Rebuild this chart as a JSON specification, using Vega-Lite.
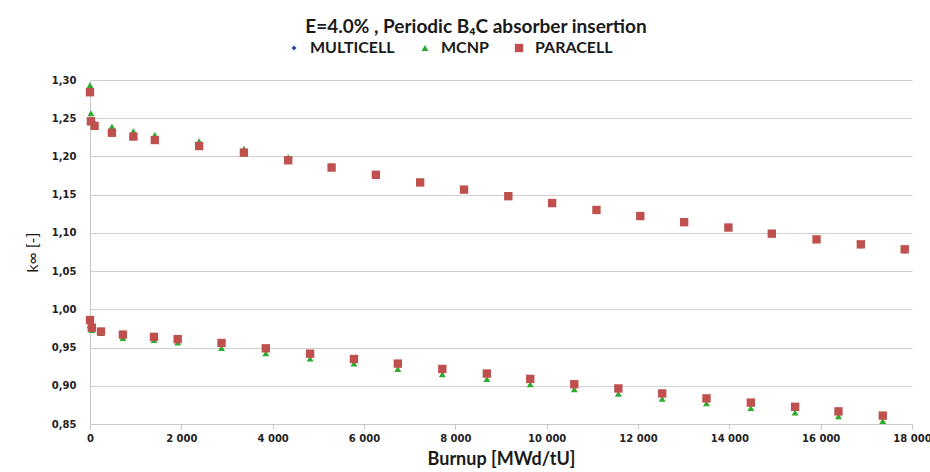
{
  "$schema": "https://vega.github.io/schema/vega-lite/v6.json",
  "width": 822,
  "height": 344,
  "autosize": "none",
  "padding": {"left": 90, "top": 80, "right": 18, "bottom": 48},
  "background": "white",
  "config": {
    "locale": {"number": {"decimal": ",", "thousands": " ", "grouping": [3], "currency": ["", ""]}},
    "view": {"stroke": null},
    "font": "Lato"
  },
  "title": {
    "text": "E=4.0% , Periodic  B₄C absorber insertion",
    "font": "Lato",
    "fontSize": 19,
    "fontWeight": "bold",
    "color": "#1a1a1a",
    "anchor": "middle",
    "dx": -25,
    "offset": 3
  },
  "data": {
    "values": [
      {"code": "MULTICELL", "burnup": 0, "k": 1.287},
      {"code": "MULTICELL", "burnup": 20, "k": 1.248},
      {"code": "MULTICELL", "burnup": 100, "k": 1.241},
      {"code": "MULTICELL", "burnup": 480, "k": 1.232},
      {"code": "MULTICELL", "burnup": 950, "k": 1.227},
      {"code": "MULTICELL", "burnup": 1420, "k": 1.222},
      {"code": "MULTICELL", "burnup": 2390, "k": 1.214},
      {"code": "MULTICELL", "burnup": 3370, "k": 1.205},
      {"code": "MULTICELL", "burnup": 4340, "k": 1.195},
      {"code": "MULTICELL", "burnup": 5290, "k": 1.185},
      {"code": "MULTICELL", "burnup": 6260, "k": 1.176},
      {"code": "MULTICELL", "burnup": 7230, "k": 1.166},
      {"code": "MULTICELL", "burnup": 8190, "k": 1.156},
      {"code": "MULTICELL", "burnup": 9160, "k": 1.147},
      {"code": "MULTICELL", "burnup": 10120, "k": 1.138},
      {"code": "MULTICELL", "burnup": 11090, "k": 1.129},
      {"code": "MULTICELL", "burnup": 12050, "k": 1.121},
      {"code": "MULTICELL", "burnup": 13010, "k": 1.113},
      {"code": "MULTICELL", "burnup": 13980, "k": 1.106},
      {"code": "MULTICELL", "burnup": 14930, "k": 1.098},
      {"code": "MULTICELL", "burnup": 15910, "k": 1.090},
      {"code": "MULTICELL", "burnup": 16880, "k": 1.083},
      {"code": "MULTICELL", "burnup": 17840, "k": 1.076},
      {"code": "MULTICELL", "burnup": 0, "k": 0.986},
      {"code": "MULTICELL", "burnup": 40, "k": 0.976},
      {"code": "MULTICELL", "burnup": 240, "k": 0.971},
      {"code": "MULTICELL", "burnup": 720, "k": 0.967},
      {"code": "MULTICELL", "burnup": 1400, "k": 0.964},
      {"code": "MULTICELL", "burnup": 1920, "k": 0.961},
      {"code": "MULTICELL", "burnup": 2880, "k": 0.956},
      {"code": "MULTICELL", "burnup": 3850, "k": 0.949},
      {"code": "MULTICELL", "burnup": 4820, "k": 0.942},
      {"code": "MULTICELL", "burnup": 5780, "k": 0.935},
      {"code": "MULTICELL", "burnup": 6740, "k": 0.929},
      {"code": "MULTICELL", "burnup": 7715, "k": 0.922},
      {"code": "MULTICELL", "burnup": 8690, "k": 0.916},
      {"code": "MULTICELL", "burnup": 9640, "k": 0.909},
      {"code": "MULTICELL", "burnup": 10605, "k": 0.902},
      {"code": "MULTICELL", "burnup": 11570, "k": 0.896},
      {"code": "MULTICELL", "burnup": 12530, "k": 0.890},
      {"code": "MULTICELL", "burnup": 13500, "k": 0.883},
      {"code": "MULTICELL", "burnup": 14470, "k": 0.877},
      {"code": "MULTICELL", "burnup": 15440, "k": 0.872},
      {"code": "MULTICELL", "burnup": 16390, "k": 0.866},
      {"code": "MULTICELL", "burnup": 17360, "k": 0.860},

      {"code": "MCNP", "burnup": 0, "k": 1.293},
      {"code": "MCNP", "burnup": 20, "k": 1.2565},
      {"code": "MCNP", "burnup": 100, "k": 1.244},
      {"code": "MCNP", "burnup": 480, "k": 1.239},
      {"code": "MCNP", "burnup": 950, "k": 1.233},
      {"code": "MCNP", "burnup": 1420, "k": 1.228},
      {"code": "MCNP", "burnup": 2390, "k": 1.220},
      {"code": "MCNP", "burnup": 3370, "k": 1.210},
      {"code": "MCNP", "burnup": 4340, "k": 1.199},
      {"code": "MCNP", "burnup": 5290, "k": 1.188},
      {"code": "MCNP", "burnup": 6260, "k": 1.178},
      {"code": "MCNP", "burnup": 7230, "k": 1.168},
      {"code": "MCNP", "burnup": 8190, "k": 1.1585},
      {"code": "MCNP", "burnup": 9160, "k": 1.149},
      {"code": "MCNP", "burnup": 10120, "k": 1.140},
      {"code": "MCNP", "burnup": 11090, "k": 1.131},
      {"code": "MCNP", "burnup": 12050, "k": 1.123},
      {"code": "MCNP", "burnup": 13010, "k": 1.1145},
      {"code": "MCNP", "burnup": 13980, "k": 1.107},
      {"code": "MCNP", "burnup": 14930, "k": 1.099},
      {"code": "MCNP", "burnup": 15910, "k": 1.0915},
      {"code": "MCNP", "burnup": 16880, "k": 1.085},
      {"code": "MCNP", "burnup": 17840, "k": 1.0785},
      {"code": "MCNP", "burnup": 0, "k": 0.979},
      {"code": "MCNP", "burnup": 40, "k": 0.973},
      {"code": "MCNP", "burnup": 240, "k": 0.969},
      {"code": "MCNP", "burnup": 720, "k": 0.9625},
      {"code": "MCNP", "burnup": 1400, "k": 0.960},
      {"code": "MCNP", "burnup": 1920, "k": 0.9565},
      {"code": "MCNP", "burnup": 2880, "k": 0.9495},
      {"code": "MCNP", "burnup": 3850, "k": 0.9425},
      {"code": "MCNP", "burnup": 4820, "k": 0.9355},
      {"code": "MCNP", "burnup": 5780, "k": 0.929},
      {"code": "MCNP", "burnup": 6740, "k": 0.922},
      {"code": "MCNP", "burnup": 7715, "k": 0.915},
      {"code": "MCNP", "burnup": 8690, "k": 0.909},
      {"code": "MCNP", "burnup": 9640, "k": 0.902},
      {"code": "MCNP", "burnup": 10605, "k": 0.8955},
      {"code": "MCNP", "burnup": 11570, "k": 0.8895},
      {"code": "MCNP", "burnup": 12530, "k": 0.883},
      {"code": "MCNP", "burnup": 13500, "k": 0.877},
      {"code": "MCNP", "burnup": 14470, "k": 0.871},
      {"code": "MCNP", "burnup": 15440, "k": 0.865},
      {"code": "MCNP", "burnup": 16390, "k": 0.860},
      {"code": "MCNP", "burnup": 17360, "k": 0.854},

      {"code": "PARACELL", "burnup": 0, "k": 1.284},
      {"code": "PARACELL", "burnup": 20, "k": 1.246},
      {"code": "PARACELL", "burnup": 100, "k": 1.240},
      {"code": "PARACELL", "burnup": 480, "k": 1.231},
      {"code": "PARACELL", "burnup": 950, "k": 1.226},
      {"code": "PARACELL", "burnup": 1420, "k": 1.2215},
      {"code": "PARACELL", "burnup": 2390, "k": 1.2136},
      {"code": "PARACELL", "burnup": 3370, "k": 1.205},
      {"code": "PARACELL", "burnup": 4340, "k": 1.195},
      {"code": "PARACELL", "burnup": 5290, "k": 1.1855},
      {"code": "PARACELL", "burnup": 6260, "k": 1.176},
      {"code": "PARACELL", "burnup": 7230, "k": 1.166},
      {"code": "PARACELL", "burnup": 8190, "k": 1.1566},
      {"code": "PARACELL", "burnup": 9160, "k": 1.148},
      {"code": "PARACELL", "burnup": 10120, "k": 1.139},
      {"code": "PARACELL", "burnup": 11090, "k": 1.130},
      {"code": "PARACELL", "burnup": 12050, "k": 1.122},
      {"code": "PARACELL", "burnup": 13010, "k": 1.114},
      {"code": "PARACELL", "burnup": 13980, "k": 1.107},
      {"code": "PARACELL", "burnup": 14930, "k": 1.099},
      {"code": "PARACELL", "burnup": 15910, "k": 1.0915},
      {"code": "PARACELL", "burnup": 16880, "k": 1.085},
      {"code": "PARACELL", "burnup": 17840, "k": 1.0785},
      {"code": "PARACELL", "burnup": 0, "k": 0.986},
      {"code": "PARACELL", "burnup": 40, "k": 0.976},
      {"code": "PARACELL", "burnup": 240, "k": 0.971},
      {"code": "PARACELL", "burnup": 720, "k": 0.967},
      {"code": "PARACELL", "burnup": 1400, "k": 0.964},
      {"code": "PARACELL", "burnup": 1920, "k": 0.961},
      {"code": "PARACELL", "burnup": 2880, "k": 0.956},
      {"code": "PARACELL", "burnup": 3850, "k": 0.949},
      {"code": "PARACELL", "burnup": 4820, "k": 0.942},
      {"code": "PARACELL", "burnup": 5780, "k": 0.935},
      {"code": "PARACELL", "burnup": 6740, "k": 0.929},
      {"code": "PARACELL", "burnup": 7715, "k": 0.922},
      {"code": "PARACELL", "burnup": 8690, "k": 0.916},
      {"code": "PARACELL", "burnup": 9640, "k": 0.909},
      {"code": "PARACELL", "burnup": 10605, "k": 0.902},
      {"code": "PARACELL", "burnup": 11570, "k": 0.8965},
      {"code": "PARACELL", "burnup": 12530, "k": 0.890},
      {"code": "PARACELL", "burnup": 13500, "k": 0.8835},
      {"code": "PARACELL", "burnup": 14470, "k": 0.878},
      {"code": "PARACELL", "burnup": 15440, "k": 0.8725},
      {"code": "PARACELL", "burnup": 16390, "k": 0.8665},
      {"code": "PARACELL", "burnup": 17360, "k": 0.861}
    ]
  },
  "mark": {"type": "point", "filled": true, "opacity": 1},
  "encoding": {
    "x": {
      "field": "burnup",
      "type": "quantitative",
      "scale": {"domain": [0, 18000], "nice": false, "zero": false},
      "axis": {
        "title": "Burnup [MWd/tU]",
        "values": [0, 2000, 4000, 6000, 8000, 10000, 12000, 14000, 16000, 18000],
        "format": ",d",
        "grid": false,
        "domainColor": "#c8c8c8",
        "tickColor": "#c8c8c8",
        "tickSize": 5,
        "labelFont": "DejaVu Sans",
        "labelFontSize": 10,
        "labelFontWeight": "bold",
        "labelColor": "#222222",
        "labelPadding": 4,
        "labelFlush": false,
        "labelOverlap": false,
        "titleFont": "Lato",
        "titleFontSize": 18,
        "titleFontWeight": "bold",
        "titleColor": "#1a1a1a",
        "titlePadding": 7
      }
    },
    "y": {
      "field": "k",
      "type": "quantitative",
      "scale": {"domain": [0.85, 1.3], "nice": false, "zero": false},
      "axis": {
        "title": "k∞ [-]",
        "values": [0.85, 0.9, 0.95, 1.0, 1.05, 1.1, 1.15, 1.2, 1.25, 1.3],
        "format": ".2f",
        "grid": true,
        "gridColor": "#d0d0d0",
        "gridWidth": 1,
        "domainColor": "#c8c8c8",
        "ticks": false,
        "labelFont": "DejaVu Sans",
        "labelFontSize": 10,
        "labelFontWeight": "bold",
        "labelColor": "#222222",
        "labelPadding": 14,
        "titleFont": "Lato",
        "titleFontSize": 16,
        "titleFontWeight": "normal",
        "titleColor": "#1a1a1a",
        "titlePadding": 11
      }
    },
    "color": {
      "field": "code",
      "type": "nominal",
      "scale": {"domain": ["MULTICELL", "MCNP", "PARACELL"], "range": ["#1f4e99", "#2eaa2e", "#c0504d"]},
      "legend": {
        "title": null,
        "orient": "none",
        "legendX": 196,
        "legendY": -40,
        "direction": "horizontal",
        "labelFont": "Lato",
        "labelFontSize": 16,
        "labelFontWeight": "bold",
        "labelColor": "#1a1a1a",
        "labelOffset": 8,
        "columnPadding": 22,
        "symbolSize": 40
      }
    },
    "shape": {
      "field": "code",
      "type": "nominal",
      "scale": {"domain": ["MULTICELL", "MCNP", "PARACELL"], "range": ["diamond", "triangle-up", "square"]}
    },
    "size": {
      "field": "code",
      "type": "nominal",
      "scale": {"domain": ["MULTICELL", "MCNP", "PARACELL"], "range": [25, 70, 90]},
      "legend": null
    }
  }
}
